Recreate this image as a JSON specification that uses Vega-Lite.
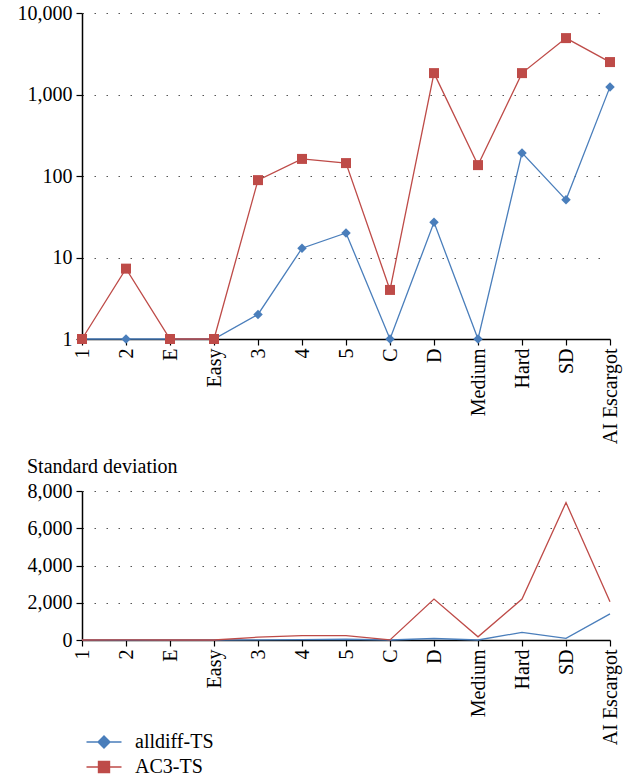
{
  "$schema": "https://vega.github.io/schema/vega-lite/v6.json",
  "padding": {"left": 17, "top": 3, "right": 4, "bottom": 2},
  "background": "white",
  "config": {
    "view": {"stroke": null},
    "font": "Liberation Serif",
    "axis": {
      "labelFont": "Liberation Serif",
      "labelFontSize": 20,
      "labelColor": "black",
      "domainColor": "black",
      "domainWidth": 1.5,
      "tickColor": "black",
      "tickWidth": 1.2,
      "tickSize": 6,
      "title": null,
      "gridColor": "#555555",
      "gridDash": [1.5, 10.5],
      "gridWidth": 1.2
    },
    "legend": {"labelFont": "Liberation Serif", "labelFontSize": 20, "labelColor": "black"}
  },
  "data": {
    "values": [
      {"instance": "1", "series": "alldiff-TS", "mean": 1, "sd": 0},
      {"instance": "2", "series": "alldiff-TS", "mean": 1, "sd": 0},
      {"instance": "E", "series": "alldiff-TS", "mean": 1, "sd": 0},
      {"instance": "Easy", "series": "alldiff-TS", "mean": 1, "sd": 0},
      {"instance": "3", "series": "alldiff-TS", "mean": 2, "sd": 5},
      {"instance": "4", "series": "alldiff-TS", "mean": 13, "sd": 20},
      {"instance": "5", "series": "alldiff-TS", "mean": 20, "sd": 40},
      {"instance": "C", "series": "alldiff-TS", "mean": 1, "sd": 0},
      {"instance": "D", "series": "alldiff-TS", "mean": 27, "sd": 80},
      {"instance": "Medium", "series": "alldiff-TS", "mean": 1, "sd": 0},
      {"instance": "Hard", "series": "alldiff-TS", "mean": 192, "sd": 410},
      {"instance": "SD", "series": "alldiff-TS", "mean": 51, "sd": 90},
      {"instance": "AI Escargot", "series": "alldiff-TS", "mean": 1240, "sd": 1400},
      {"instance": "1", "series": "AC3-TS", "mean": 1, "sd": 0},
      {"instance": "2", "series": "AC3-TS", "mean": 7.3, "sd": 10},
      {"instance": "E", "series": "AC3-TS", "mean": 1, "sd": 0},
      {"instance": "Easy", "series": "AC3-TS", "mean": 1, "sd": 0},
      {"instance": "3", "series": "AC3-TS", "mean": 89, "sd": 150},
      {"instance": "4", "series": "AC3-TS", "mean": 162, "sd": 240},
      {"instance": "5", "series": "AC3-TS", "mean": 144, "sd": 240},
      {"instance": "C", "series": "AC3-TS", "mean": 4, "sd": 5},
      {"instance": "D", "series": "AC3-TS", "mean": 1830, "sd": 2200},
      {"instance": "Medium", "series": "AC3-TS", "mean": 136, "sd": 170},
      {"instance": "Hard", "series": "AC3-TS", "mean": 1830, "sd": 2200},
      {"instance": "SD", "series": "AC3-TS", "mean": 4920, "sd": 7380},
      {"instance": "AI Escargot", "series": "AC3-TS", "mean": 2500, "sd": 2050}
    ]
  },
  "resolve": {"scale": {"color": "independent"}, "legend": {"color": "independent"}},
  "spacing": 13,
  "vconcat": [
    {
      "width": 528,
      "height": 326,
      "encoding": {
        "x": {
          "field": "instance", "type": "ordinal", "sort": null,
          "scale": {"type": "point", "padding": 0},
          "axis": {"labelAngle": -90, "grid": false, "labelPadding": 3}
        },
        "y": {
          "field": "mean", "type": "quantitative",
          "scale": {"type": "log", "domain": [1, 10000], "nice": false},
          "axis": {"values": [1, 10, 100, 1000, 10000], "format": ",.0f", "grid": true, "labelPadding": 4}
        },
        "color": {
          "field": "series", "type": "nominal",
          "scale": {"domain": ["alldiff-TS", "AC3-TS"], "range": ["#4a7ebb", "#be4b48"]},
          "legend": null
        }
      },
      "layer": [
        {"mark": {"type": "line", "strokeWidth": 1.3}},
        {
          "mark": {"type": "point", "filled": true, "opacity": 1},
          "encoding": {
            "shape": {"field": "series", "type": "nominal", "scale": {"domain": ["alldiff-TS", "AC3-TS"], "range": ["diamond", "square"]}, "legend": null},
            "size": {"field": "series", "type": "nominal", "scale": {"domain": ["alldiff-TS", "AC3-TS"], "range": [90, 100]}, "legend": null}
          }
        }
      ]
    },
    {
      "width": 528,
      "height": 149,
      "title": {"text": "Standard deviation", "anchor": "start", "font": "Liberation Serif", "fontSize": 20, "fontWeight": "normal", "color": "black", "offset": 4},
      "mark": {"type": "line", "strokeWidth": 1.3},
      "encoding": {
        "x": {
          "field": "instance", "type": "ordinal", "sort": null,
          "scale": {"type": "point", "padding": 0},
          "axis": {"labelAngle": -90, "grid": false, "labelPadding": 3}
        },
        "y": {
          "field": "sd", "type": "quantitative",
          "scale": {"domain": [0, 8000], "nice": false},
          "axis": {"values": [0, 2000, 4000, 6000, 8000], "format": ",.0f", "grid": true, "labelPadding": 4}
        },
        "color": {
          "field": "series", "type": "nominal",
          "scale": {"domain": ["alldiff-TS", "AC3-TS"], "range": ["#4a7ebb", "#be4b48"]},
          "legend": {
            "title": null,
            "orient": "none",
            "legendX": 12,
            "legendY": 241,
            "direction": "vertical",
            "padding": 0,
            "symbolSize": 100,
            "labelOffset": 21,
            "rowPadding": 5,
            "encode": {
              "symbols": {
                "update": {
                  "shape": {"signal": "datum.value === 'alldiff-TS' ? 'M-3.5,0H3.5M0,-1.2L1.2,0L0,1.2L-1.2,0Z' : 'M-3.5,0H3.5M-1.1,-1.1H1.1V1.1H-1.1Z'"},
                  "fill": {"signal": "datum.value === 'alldiff-TS' ? '#4a7ebb' : '#be4b48'"},
                  "stroke": {"signal": "datum.value === 'alldiff-TS' ? '#4a7ebb' : '#be4b48'"},
                  "strokeWidth": {"value": 1.4},
                  "opacity": {"value": 1}
                }
              }
            }
          }
        }
      }
    }
  ]
}
